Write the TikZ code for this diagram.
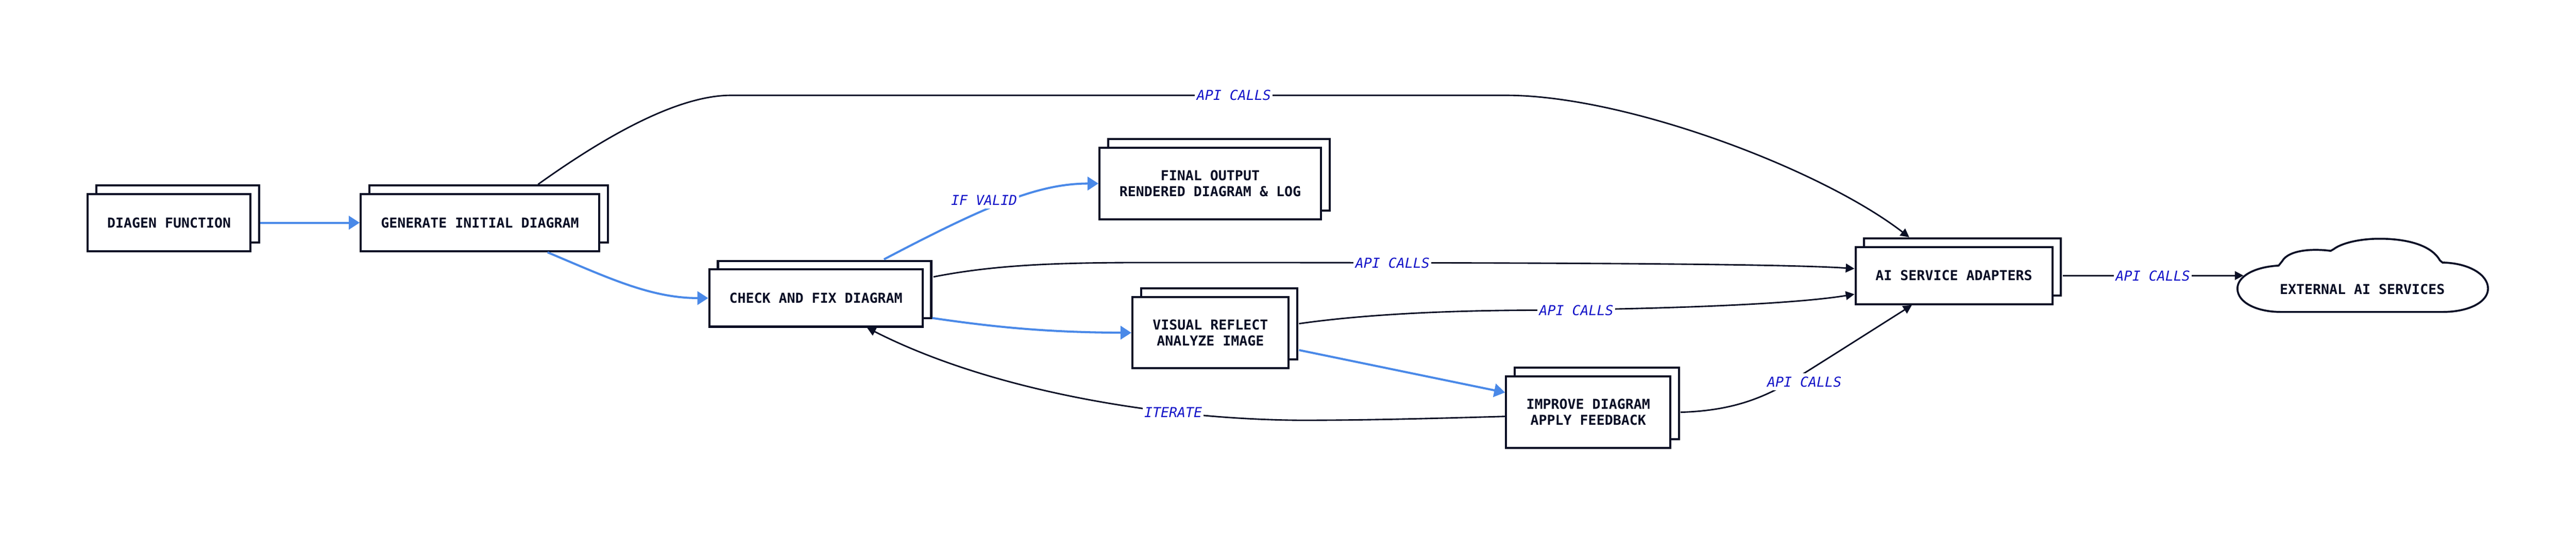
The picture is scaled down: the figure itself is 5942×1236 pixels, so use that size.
\documentclass[tikz,border=0pt]{standalone}
\usepackage{fontspec}
\setmonofont{DejaVu Sans Mono}
\usetikzlibrary{arrows.meta,shadows}
\definecolor{ink}{RGB}{10,15,37}
\definecolor{flow}{RGB}{74,137,232}
\definecolor{lbl}{RGB}{18,18,200}
\begin{document}
\begin{tikzpicture}[x=0.25pt,y=-0.25pt,
  box/.style={draw=ink, line width=1.2pt, fill=white, inner sep=0pt, align=center,
    font=\ttfamily\bfseries\fontsize{7.9pt}{9.25pt}\selectfont, text=ink,
    copy shadow={shadow xshift=5pt, shadow yshift=5pt, draw=ink, fill=white, line width=1.2pt}},
  elabel/.style={fill=white, inner xsep=1pt, inner ysep=2pt, text=lbl,
    font=\ttfamily\itshape\fontsize{7.9pt}{9.25pt}\selectfont},
  blueflow/.style={draw=flow, line width=1.2pt, -{Triangle[length=6.25pt,width=7.75pt]}},
  blackflow/.style={draw=ink, line width=0.85pt, -{Triangle[length=5pt,width=5pt]}},
]
\fill[white] (0,0) rectangle (5942,1236);
\useasboundingbox (0,0) rectangle (5942,1236);

% nodes
\node[box, minimum width=94pt, minimum height=33pt] (diagen) at (390,514) {DIAGEN FUNCTION};
\node[box, minimum width=137.5pt, minimum height=33pt] (gen) at (1107,514) {GENERATE INITIAL DIAGRAM};
\node[box, minimum width=123pt, minimum height=33pt] (check) at (1882,688) {CHECK AND FIX DIAGRAM};
\node[box, minimum width=127.75pt, minimum height=41.25pt] (final) at (2791.5,423.5) {FINAL OUTPUT\\RENDERED DIAGRAM \& LOG};
\node[box, minimum width=90pt, minimum height=41pt] (visual) at (2792,768) {VISUAL REFLECT\\ANALYZE IMAGE};
\node[box, minimum width=94.75pt, minimum height=41.25pt] (improve) at (3663.5,951.5) {IMPROVE DIAGRAM\\APPLY FEEDBACK};
\node[box, minimum width=113.5pt, minimum height=33pt] (ai) at (4507,636) {AI SERVICE ADAPTERS};

% cloud
\draw[draw=ink, line width=1.1pt, fill=white]
  (5256,613) .. controls (5200,616) and (5161,638) .. (5161,666)
  .. controls (5161,698) and (5205,720) .. (5262,720)
  -- (5634,720)
  .. controls (5695,720) and (5739,697) .. (5739,666)
  .. controls (5739,634) and (5695,607) .. (5634,606)
  -- (5628,601)
  .. controls (5608,565) and (5550,551) .. (5489,551)
  .. controls (5440,551) and (5400,562) .. (5383,575)
  -- (5376,579)
  .. controls (5340,574) and (5280,575) .. (5264,603)
  -- cycle;
\node[font=\ttfamily\bfseries\fontsize{7.9pt}{9.25pt}\selectfont, text=ink, inner sep=0pt] (ext) at (5449,668) {EXTERNAL AI SERVICES};
\coordinate (extin) at (5175,636);

% connectors
\draw[blueflow] ([xshift=5pt]diagen.east) -- (gen.west);
\draw[blueflow] ([xshift=39pt]gen.south) .. controls (1400,640) and (1500,688) .. (check.west);
\draw[blackflow] ([xshift=33.5pt,yshift=5pt]gen.north) .. controls (1401,311) and (1565,220) .. (1686,220)
  -- (3474,220) .. controls (3750,220) and (4200,390) .. ([xshift=-25.75pt,yshift=5pt]ai.north);
\draw[blueflow] ([xshift=39.25pt,yshift=5.25pt]check.north) .. controls (2289,467) and (2400,424) .. (final.west);
\draw[blueflow] ([xshift=5pt,yshift=-11.5pt]check.east) .. controls (2300,756) and (2420,767) .. (visual.west);
\draw[blackflow] ([xshift=5.75pt,yshift=12.25pt]check.east) .. controls (2300,610) and (2450,606) .. (2650,606)
  .. controls (3500,606) and (4100,608) .. ([yshift=4pt]ai.west);
\draw[blackflow] ([xshift=5.5pt,yshift=5.25pt]visual.east) .. controls (3150,725) and (3350,716) .. (3550,716)
  .. controls (3900,712) and (4150,700) .. ([yshift=-10.75pt]ai.west);
\draw[blueflow] ([xshift=5.5pt,yshift=-10pt]visual.east) -- ([yshift=11.4pt]improve.west);
\draw[blackflow] ([xshift=5.25pt]improve.east) .. controls (3990,948) and (4060,922) .. (4132,880)
  .. controls (4220,825) and (4330,755) .. ([xshift=-24.25pt]ai.south);
\draw[blackflow] ([xshift=5.5pt]ai.east) -- (extin);
\draw[blackflow] ([yshift=-2.4pt]improve.west) .. controls (3300,966) and (3150,970) .. (3000,970)
  .. controls (2700,968) and (2300,909) .. ([xshift=29.5pt]check.south);

% labels
\node[elabel] (l1) at (2846,220) {API CALLS};
\node[elabel] (l2) at (2270,462) {IF VALID};
\node[elabel] (l3) at (3212,607) {API CALLS};
\node[elabel] (l4) at (3636,716) {API CALLS};
\node[elabel] (l5) at (4162,881) {API CALLS};
\node[elabel] (l6) at (4966,637) {API CALLS};
\node[elabel] (l7) at (2706,952) {ITERATE};
\end{tikzpicture}
\end{document}
